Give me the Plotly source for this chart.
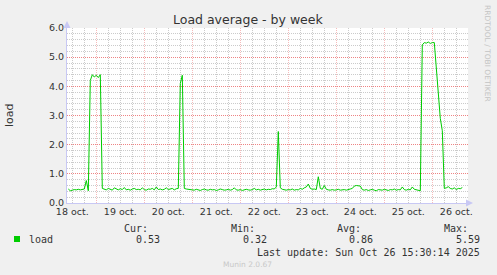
import plotly.graph_objects as go

# ---- data (hours since 18 Oct 00:00, hourly samples) ----
start_hour = 10
load = [
    0.48, 0.42, 0.44, 0.46, 0.45, 0.47, 0.45, 0.46, 0.48, 0.77, 0.42,
    4.20, 4.40, 4.32, 4.38, 4.30, 4.40, 0.50,
    0.47, 0.45, 0.50, 0.46, 0.44, 0.52, 0.47, 0.45, 0.49, 0.46, 0.53, 0.45, 0.47,
    0.44, 0.48, 0.50, 0.46, 0.47, 0.45, 0.52, 0.46, 0.44, 0.48, 0.47, 0.50, 0.45,
    0.55, 0.46, 0.48, 0.45, 0.47, 0.52, 0.46, 0.48, 0.50, 0.45, 0.49,
    0.50, 4.10, 4.38, 0.50,
    0.48, 0.47, 0.45, 0.46, 0.44, 0.47, 0.45, 0.43, 0.46, 0.48,
    0.45, 0.44, 0.47, 0.45, 0.46, 0.43, 0.45, 0.48, 0.46, 0.44,
    0.45, 0.47, 0.44, 0.46, 0.52, 0.45, 0.44, 0.46, 0.43, 0.45,
    0.47, 0.45, 0.44, 0.46, 0.50, 0.45, 0.47, 0.44, 0.46, 0.48,
    0.45, 0.47, 0.46, 0.49, 0.48,
    0.55, 2.45, 0.52,
    0.47, 0.45, 0.44, 0.46, 0.45, 0.48, 0.44, 0.46, 0.45, 0.50, 0.47, 0.52, 0.55,
    0.65, 0.50, 0.47, 0.48, 0.46, 0.90, 0.50, 0.47, 0.60,
    0.47, 0.45, 0.44, 0.46, 0.44, 0.45, 0.47, 0.44, 0.45, 0.46, 0.44, 0.47, 0.48, 0.50,
    0.58, 0.60, 0.60, 0.58, 0.46,
    0.44, 0.46, 0.43, 0.45, 0.47, 0.44, 0.42, 0.46, 0.45, 0.44,
    0.47, 0.45, 0.43, 0.46, 0.45, 0.48, 0.44, 0.46, 0.45, 0.55,
    0.46, 0.44, 0.47, 0.45, 0.55, 0.47, 0.45, 0.43,
    0.42, 5.42, 5.50, 5.48, 5.52, 5.47, 5.50, 5.50, 4.70, 3.80, 2.90, 2.48, 0.50,
    0.52, 0.56, 0.50, 0.48, 0.52, 0.46, 0.50, 0.49, 0.53,
]
hours = [start_hour + i for i in range(len(load))]

day_labels = ["18 oct.", "19 oct.", "20 oct.", "21 oct.", "22 oct.",
              "23 oct.", "24 oct.", "25 oct.", "26 oct."]
label_hours = [12 + 24 * i for i in range(len(day_labels))]
midnight_hours = [24 * i for i in range(0, 10)]
y_major = [0, 1, 2, 3, 4, 5, 6]
y_minor = [round(k * 0.2, 1) for k in range(31) if k % 5 != 0]

stat_names = ["Cur:", "Min:", "Avg:", "Max:"]
stat_values = ["0.53", "0.32", "0.86", "5.59"]
last_update = "Last update: Sun Oct 26 15:30:14 2025"

# ---- layout geometry (pixels) ----
W, H = 497, 275
L, R, T, B = 67, 468, 28, 203
x_range = [9.35, 209.85]


def px(x):
    return (x - L) / (R - L)


def py(y):
    return (B - y) / (B - T)


MONO = "DejaVu Sans Mono"
SANS = "DejaVu Sans"
GRID_RED_V = "rgba(235,120,120,0.5)"
GRID_RED_H = "rgba(235,110,110,0.85)"
GRID_GREY = "rgba(185,185,185,0.75)"
AXIS_BLUE = "#c8c8f4"
DASH = "1px,1px"

fig = go.Figure()
fig.add_trace(go.Scatter(x=hours, y=load, mode="lines",
                         line=dict(color="#00cc00", width=1),
                         showlegend=False, hoverinfo="skip"))
# invisible trace for the midnight (red) grid axis
fig.add_trace(go.Scatter(x=[x_range[0]], y=[0], xaxis="x2", mode="markers",
                         marker=dict(opacity=0), showlegend=False, hoverinfo="skip"))

fig.update_layout(
    width=W, height=H,
    margin=dict(l=L, r=W - R, t=T, b=H - B, pad=0, autoexpand=False),
    paper_bgcolor="#f0f0f0", plot_bgcolor="#ffffff",
    font=dict(family=SANS, size=10, color="#333333"),
    xaxis=dict(range=x_range, tickvals=label_hours, ticktext=day_labels,
               tickfont=dict(family=SANS, size=9.5, color="#333333"),
               showgrid=True, gridcolor=GRID_GREY, griddash=DASH, gridwidth=1,
               minor=dict(tick0=6, dtick=12, showgrid=True, gridcolor=GRID_GREY,
                          griddash=DASH, ticks=""),
               showline=True, linecolor=AXIS_BLUE, linewidth=1,
               ticks="", zeroline=False, automargin=False),
    xaxis2=dict(range=x_range, overlaying="x", tickmode="array", tickvals=midnight_hours,
                showticklabels=False, showgrid=True, gridcolor=GRID_RED_V,
                griddash=DASH, gridwidth=1, ticks="", zeroline=False,
                showline=False, automargin=False),
    yaxis=dict(range=[0, 6], tickmode="array", tickvals=y_major,
               ticktext=[f"{v:.1f}" for v in y_major],
               tickfont=dict(family=SANS, size=9.5, color="#333333"),
               showgrid=True, gridcolor=GRID_RED_H, griddash=DASH,
               minor=dict(tickmode="array", tickvals=y_minor, showgrid=True,
                          gridcolor=GRID_GREY, griddash=DASH, ticks=""),
               showline=True, linecolor=AXIS_BLUE, linewidth=1,
               ticks="", zeroline=False, automargin=False),
)

ann = []
# title
ann.append(dict(text="Load average - by week", x=px(248), y=py(19), xref="paper",
                yref="paper", showarrow=False, xanchor="center", yanchor="middle",
                font=dict(family=SANS, size=12.5, color="#333333")))
# y-axis title
ann.append(dict(text="load", x=px(9), y=py(115), xref="paper", yref="paper",
                showarrow=False, textangle=-90, xanchor="center", yanchor="middle",
                font=dict(family=SANS, size=11, color="#333333")))
# rrdtool credit
ann.append(dict(text="RRDTOOL / TOBI OETIKER", x=px(488), y=py(53), xref="paper",
                yref="paper", showarrow=False, textangle=90, xanchor="center",
                yanchor="middle", font=dict(family=SANS, size=7.5, color="#c4c4c4")))
# axis arrows
ann.append(dict(x=px(L), y=py(21), xref="paper", yref="paper", ax=0, ay=8,
                showarrow=True, arrowhead=2, arrowsize=1.4, arrowwidth=1,
                arrowcolor=AXIS_BLUE, text=""))
ann.append(dict(x=px(473), y=py(B), xref="paper", yref="paper", ax=-8, ay=0,
                showarrow=True, arrowhead=2, arrowsize=1.4, arrowwidth=1,
                arrowcolor=AXIS_BLUE, text=""))
# legend text
ann.append(dict(text="load", x=px(27), y=py(239), xref="paper", yref="paper",
                showarrow=False, xanchor="left", yanchor="middle",
                font=dict(family=MONO, size=10, color="#333333")))
name_right = [150, 257, 363, 470]
val_right = [162, 269, 375, 482]
for n, v, nx, vx in zip(stat_names, stat_values, name_right, val_right):
    ann.append(dict(text=n, x=px(nx), y=py(228), xref="paper", yref="paper",
                    showarrow=False, xanchor="right", yanchor="middle",
                    font=dict(family=MONO, size=10, color="#333333")))
    ann.append(dict(text=v, x=px(vx), y=py(239), xref="paper", yref="paper",
                    showarrow=False, xanchor="right", yanchor="middle",
                    font=dict(family=MONO, size=10, color="#333333")))
ann.append(dict(text=last_update, x=px(482), y=py(252), xref="paper", yref="paper",
                showarrow=False, xanchor="right", yanchor="middle",
                font=dict(family=MONO, size=10, color="#333333")))
ann.append(dict(text="Munin 2.0.67", x=px(247), y=py(264), xref="paper", yref="paper",
                showarrow=False, xanchor="center", yanchor="middle",
                font=dict(family=SANS, size=7.5, color="#c8c8c8")))
fig.update_layout(annotations=ann)

fig.add_shape(type="rect", xref="paper", yref="paper",
              x0=px(14), x1=px(20), y0=py(242), y1=py(236),
              fillcolor="#00cc00", line=dict(width=0))

fig.write_html("out.html")
